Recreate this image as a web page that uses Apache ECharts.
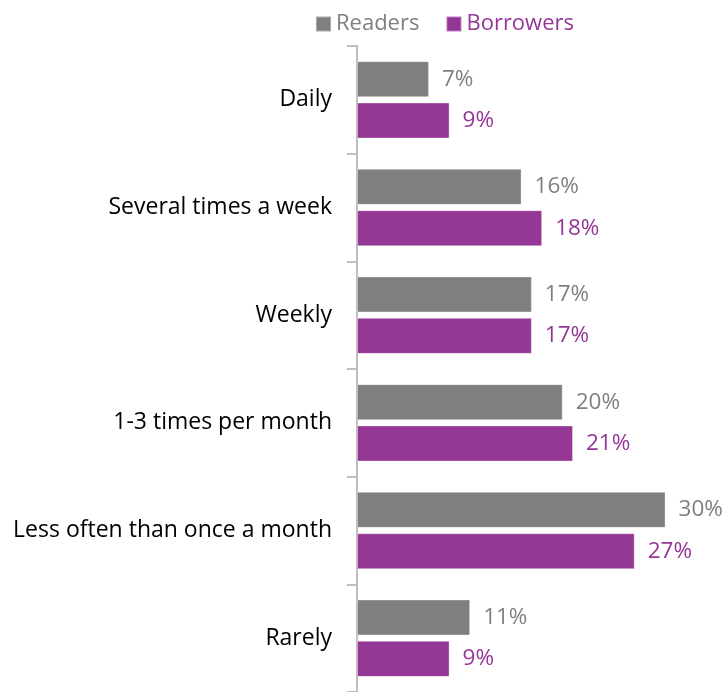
<!DOCTYPE html>
<html>
<head>
<meta charset="utf-8">
<script src="https://cdn.jsdelivr.net/npm/echarts@6/dist/echarts.min.js"></script>
<style>
  html, body { margin: 0; padding: 0; background: #fff; }
  #chart { width: 728px; height: 692px; }
</style>
</head>
<body>
<div id="chart"></div>
<script>
// Frequency categories, top to bottom
const categories = [
  'Daily',
  'Several times a week',
  'Weekly',
  '1-3 times per month',
  'Less often than once a month',
  'Rarely'
];
// Share of respondents (%)
const readers = [7, 16, 17, 20, 30, 11];
const borrowers = [9, 18, 17, 21, 27, 9];

const GREY = '#7f7f7f';
const PURPLE = '#953795';
const FONT = '"Open Sans", "Noto Sans", sans-serif';

const chart = echarts.init(document.getElementById('chart'));

function barSeries(name, data, color) {
  return {
    name: name,
    type: 'bar',
    data: data,
    barWidth: 36,
    barGap: '15%',
    itemStyle: { color: color, borderColor: 'rgba(255,255,255,0.35)', borderWidth: 1 },
    label: {
      show: true,
      position: 'right',
      distance: 13,
      formatter: '{c}%',
      color: color,
      fontFamily: FONT,
      fontSize: 22.5
    },
    emphasis: { disabled: true }
  };
}

chart.setOption({
  animation: false,
  textStyle: { fontFamily: FONT },
  legend: {
    top: 8,
    left: 310,
    itemWidth: 15,
    itemHeight: 15,
    itemGap: 26,
    icon: 'rect',
    textStyle: { fontFamily: FONT, fontSize: 22, color: GREY },
    data: [
      { name: 'Readers', textStyle: { color: GREY } },
      { name: 'Borrowers', textStyle: { color: PURPLE } }
    ]
  },
  grid: { left: 357, right: 11, top: 46, bottom: 0, containLabel: false },
  xAxis: {
    type: 'value',
    min: 0,
    max: 35,
    show: false
  },
  yAxis: {
    type: 'category',
    data: categories,
    inverse: true,
    axisLine: { show: true, lineStyle: { color: '#bfbfbf', width: 2 } },
    axisTick: { show: true, length: 10, lineStyle: { color: '#bfbfbf', width: 2 } },
    axisLabel: { color: '#000', fontFamily: FONT, fontSize: 23, margin: 25 }
  },
  series: [
    barSeries('Readers', readers, GREY),
    barSeries('Borrowers', borrowers, PURPLE)
  ]
});
</script>
</body>
</html>
